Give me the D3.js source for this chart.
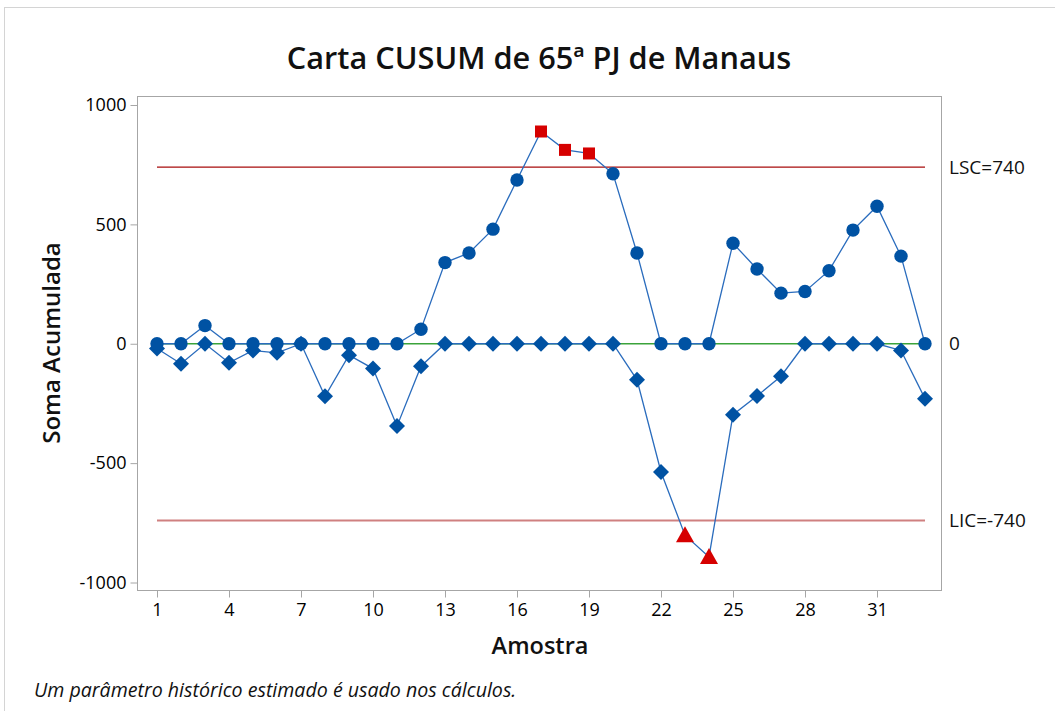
<html>
<head>
<meta charset="utf-8">
<script src="https://d3js.org/d3.v7.min.js"></script>
<style>
  body { margin: 0; background: #fff; }
  text { font-family: "Open Sans", "Noto Sans", sans-serif; }
</style>
</head>
<body>
<svg id="chart" width="1055" height="711"></svg>
<script>
// sample numbers and the two CUSUM series
var samples = [1,2,3,4,5,6,7,8,9,10,11,12,13,14,15,16,17,18,19,20,21,22,23,24,25,26,27,28,29,30,31,32,33];
var upperCusum = [0,0,76,0,0,0,0,0,0,0,0,61,340,380,480,686,889,812,797,712,380,0,0,0,421,313,212,219,306,476,576,367,0];
var lowerCusum = [-20,-84,0,-80,-28,-38,0,-220,-48,-104,-345,-94,0,0,0,0,0,0,0,0,-151,-537,-802,-893,-297,-219,-136,0,0,0,0,-28,-230];
var yTicks = [-1000, -500, 0, 500, 1000];
var xTicks = [1, 4, 7, 10, 13, 16, 19, 22, 25, 28, 31];
var limitValues = [740, 0, -740];
var limitLabels = ["LSC=740", "0", "LIC=-740"];
var ucl = 740, lcl = -740;

var svg = d3.select("#chart");

// light outer frame
svg.append("rect")
    .attr("x", 4.5).attr("y", 7.5)
    .attr("width", 1200).attr("height", 900)
    .attr("fill", "none").attr("stroke", "#d4d4d4");

var x = d3.scaleLinear().domain([1, 33]).range([157, 925]);
var y = d3.scaleLinear().domain([-1000, 1000]).range([582.5, 105]);

// plot frame
svg.append("rect")
    .attr("x", 137.5).attr("y", 96.5)
    .attr("width", 804).attr("height", 494)
    .attr("fill", "none").attr("stroke", "#a6a6a6");

// y axis
var yAxis = svg.append("g")
    .attr("transform", "translate(137.5,0)")
    .call(d3.axisLeft(y).tickValues(yTicks).tickFormat(function(d) { return String(d); })
        .tickSize(7).tickPadding(4));
yAxis.select(".domain").remove();
yAxis.selectAll("line").attr("stroke", "#a6a6a6");
yAxis.selectAll("text").attr("font-size", 18).attr("font-weight", 500).attr("fill", "#000")
    .style("font-family", "'Open Sans', sans-serif");

// x axis
var xAxis = svg.append("g")
    .attr("transform", "translate(0,590.5)")
    .call(d3.axisBottom(x).tickValues(xTicks).tickFormat(function(d) { return String(d); })
        .tickSize(7).tickPadding(6));
xAxis.select(".domain").remove();
xAxis.selectAll("line").attr("stroke", "#a6a6a6");
xAxis.selectAll("text").attr("font-size", 18).attr("font-weight", 500).attr("fill", "#000")
    .style("font-family", "'Open Sans', sans-serif");

// control limits and centre line
var limitColors = ["#a80c0c", "#3ba33b", "#cf8080"];
var limitWidths = [1.3, 1.3, 2];
svg.selectAll(".limit")
    .data(limitValues)
    .enter().append("line")
    .attr("class", "limit")
    .attr("x1", x(samples[0])).attr("x2", x(samples[samples.length - 1]))
    .attr("y1", function(d) { return y(d); })
    .attr("y2", function(d) { return y(d); })
    .attr("stroke", function(d, i) { return limitColors[i]; })
    .attr("stroke-width", function(d, i) { return limitWidths[i]; });

svg.selectAll(".limitLabel")
    .data(limitValues)
    .enter().append("text")
    .attr("x", 949)
    .attr("y", function(d) { return y(d); })
    .attr("dy", "0.35em")
    .attr("font-size", 19)
    .attr("fill", "#111")
    .text(function(d, i) { return limitLabels[i]; });

// series lines
var line = d3.line()
    .x(function(d, i) { return x(samples[i]); })
    .y(function(d) { return y(d); });

[upperCusum, lowerCusum].forEach(function(series) {
    svg.append("path")
        .datum(series)
        .attr("d", line)
        .attr("fill", "none")
        .attr("stroke", "#2a6cbd")
        .attr("stroke-width", 1.3);
});

var blue = "#0052a3", red = "#d60000";

// lower cusum: diamonds, red triangles below LIC
svg.selectAll(".lo")
    .data(lowerCusum)
    .enter().append("path")
    .attr("class", "lo")
    .attr("transform", function(d, i) { return "translate(" + x(samples[i]) + "," + y(d) + ")"; })
    .attr("d", function(d) {
        return d < lcl ? "M0,-9L9,7L-9,7Z" : "M0,-8L8,0L0,8L-8,0Z";
    })
    .attr("fill", function(d) { return d < lcl ? red : blue; });

// upper cusum: circles, red squares above LSC
svg.selectAll(".up")
    .data(upperCusum)
    .enter().append("path")
    .attr("class", "up")
    .attr("transform", function(d, i) { return "translate(" + x(samples[i]) + "," + y(d) + ")"; })
    .attr("d", function(d) {
        return d > ucl ? "M-6,-6H6V6H-6Z" : d3.symbol().type(d3.symbolCircle).size(Math.PI * 6.7 * 6.7)();
    })
    .attr("fill", function(d) { return d > ucl ? red : blue; });

// titles
svg.append("text")
    .attr("x", 539).attr("y", 69)
    .attr("text-anchor", "middle")
    .attr("font-size", 30.7).attr("font-weight", 600)
    .attr("fill", "#111")
    .text("Carta CUSUM de 65ª PJ de Manaus");

svg.append("text")
    .attr("x", 540).attr("y", 654)
    .attr("text-anchor", "middle")
    .attr("font-size", 23.5).attr("font-weight", 600)
    .attr("fill", "#111")
    .text("Amostra");

svg.append("text")
    .attr("transform", "translate(60,343) rotate(-90)")
    .attr("text-anchor", "middle")
    .attr("font-size", 24).attr("font-weight", 600)
    .attr("fill", "#111")
    .text("Soma Acumulada");

svg.append("text")
    .attr("x", 34).attr("y", 697)
    .attr("font-size", 19.6).attr("font-style", "italic")
    .attr("fill", "#111")
    .text("Um parâmetro histórico estimado é usado nos cálculos.");
</script>
</body>
</html>
